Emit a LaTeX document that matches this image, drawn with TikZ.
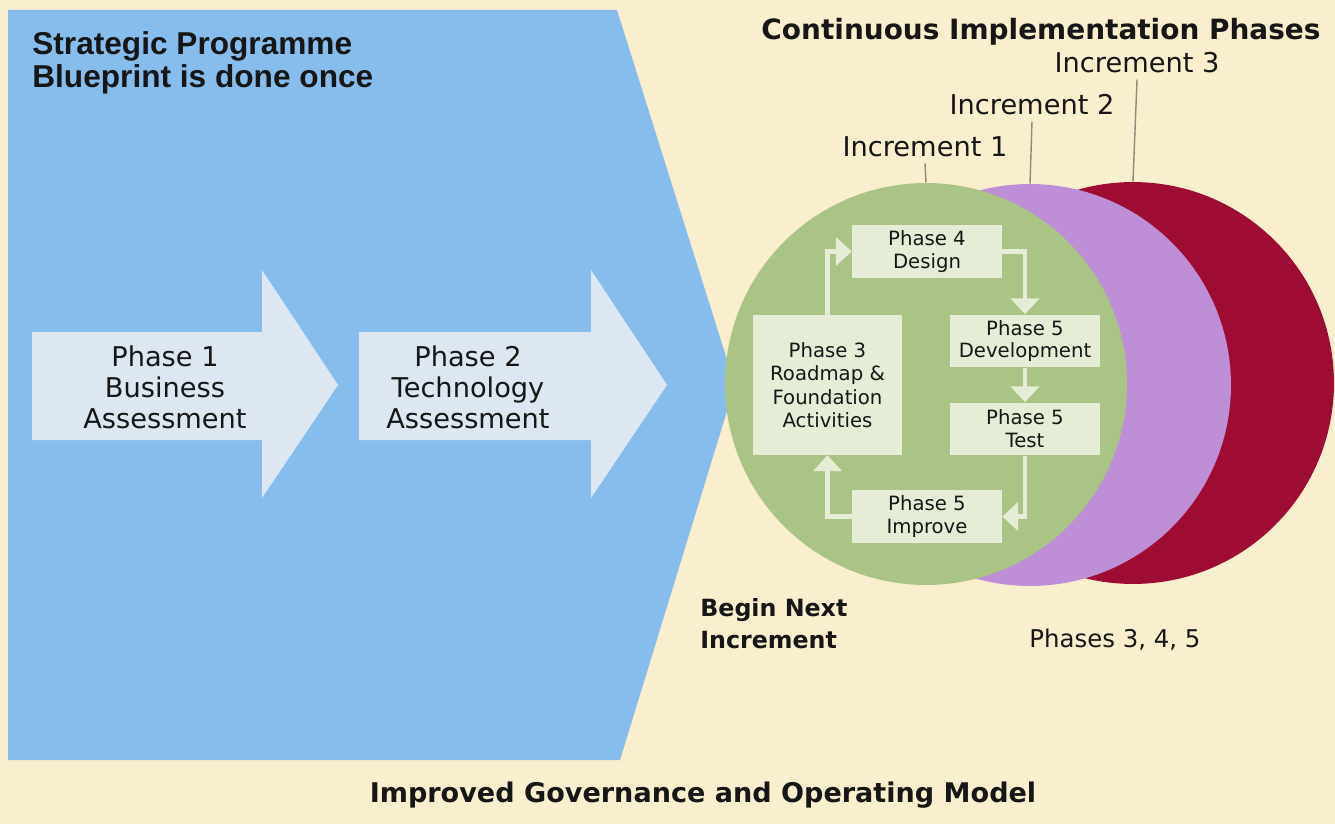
\documentclass[tikz,border=0pt]{standalone}
\usepackage{fontspec}
\setmainfont{DejaVu Sans}
\newfontfamily\arialfont{Liberation Sans}
\usetikzlibrary{arrows.meta}

\definecolor{paper}{RGB}{249,238,205}
\definecolor{blueprint}{RGB}{135,189,237}
\definecolor{arrowblue}{RGB}{221,231,242}
\definecolor{incgreen}{RGB}{170,196,134}
\definecolor{incpurple}{RGB}{190,142,214}
\definecolor{incred}{RGB}{158,12,52}
\definecolor{boxgreen}{RGB}{229,237,214}
\definecolor{ink}{RGB}{22,22,22}
\definecolor{tick}{RGB}{145,138,124}

\tikzset{
	phasetext/.style={align=center, text=ink, font=\fontsize{15.5}{17.6}\selectfont},
	stepbox/.style={fill=boxgreen, align=center, inner sep=0pt, text=ink, minimum width=3cm, minimum height=1.06cm, font=\fontsize{11.2}{13}\selectfont},
	loopline/.style={draw=boxgreen, line width=2.4pt, -{Triangle[width=16pt,length=9pt]}},
	incring/.style={circle, inner sep=0pt, minimum size=8.04cm},
	inclabel/.style={text=ink, font=\fontsize{15.5}{18}\selectfont},
}

\begin{document}
\begin{tikzpicture}[x=0.02cm,y=-0.02cm]
	\useasboundingbox[fill=paper] (0,0) rectangle (1335,824);

	\fill[blueprint] (8,10) -- (617,10) -- (735,385) -- (620,760) -- (8,760) -- cycle;
	\fill[arrowblue] (32,332) -- (262,332) -- (262,270) -- (338,385) -- (262,498) -- (262,440) -- (32,440) -- cycle;
	\fill[arrowblue] (359,332) -- (591,332) -- (591,270) -- (667,385) -- (591,498) -- (591,440) -- (359,440) -- cycle;

	\node[anchor=west, align=left, inner sep=0pt, text=ink, font=\arialfont\bfseries\fontsize{18}{18.8}\selectfont] (blue) at (32,63) {Strategic Programme\\Blueprint is done once};
	\node[phasetext] (ph1) at (165,387) {Phase 1\\Business\\Assessment};
	\node[phasetext] (ph2) at (468,387) {Phase 2\\Technology\\Assessment};

	\node[incring, fill=incred] (c3) at (1133,383) {};
	\node[incring, fill=incpurple] (c2) at (1030,385) {};
	\node[incring, fill=incgreen] (c1) at (926,384) {};

	\node[font=\bfseries\fontsize{15.9}{18}\selectfont, text=ink] (cont) at (1041,32) {Continuous Implementation Phases};
	\node[inclabel] (inc3) at (1137,63) {Increment 3};
	\node[inclabel] (inc2) at (1032,105) {Increment 2};
	\node[inclabel] (inc1) at (925,147) {Increment 1};
	\foreach \i in {1,2,3}{
	\draw[tick, line width=0.8pt] (inc\i.south) -- (c\i.north);
	}

	\node[stepbox] (p4) at (927,251.5) {Phase 4\\Design};
	\node[stepbox, minimum width=2.98cm, minimum height=2.8cm, font=\fontsize{11.2}{13.4}\selectfont] (p3) at (827.5,385) {Phase 3\\Roadmap \&\\Foundation\\Activities};
	\node[stepbox] (dev) at (1025,341) {Phase 5\\Development};
	\node[stepbox] (test) at (1025,429) {Phase 5\\Test};
	\node[stepbox] (imp) at (927,516.5) {Phase 5\\Improve};

	\draw[loopline] (p3.north) |- (p4.west);
	\draw[loopline] (p4.east) -| (dev.north);
	\draw[loopline] (dev.south) -- (test.north);
	\draw[loopline] (test.south) |- (imp.east);
	\draw[loopline] (imp.west) -| (p3.south);

	\node[anchor=west, align=left, inner sep=0pt, text=ink, font=\bfseries\fontsize{13.5}{18.2}\selectfont] (next) at (700,624) {Begin Next\\Increment};
	\node[text=ink, font=\fontsize{13.9}{16}\selectfont] (p345) at (1115,640) {Phases 3, 4, 5};
	\node[text=ink, font=\bfseries\fontsize{15.4}{18}\selectfont] (gov) at (703,795) {Improved Governance and Operating Model};
\end{tikzpicture}
\end{document}
